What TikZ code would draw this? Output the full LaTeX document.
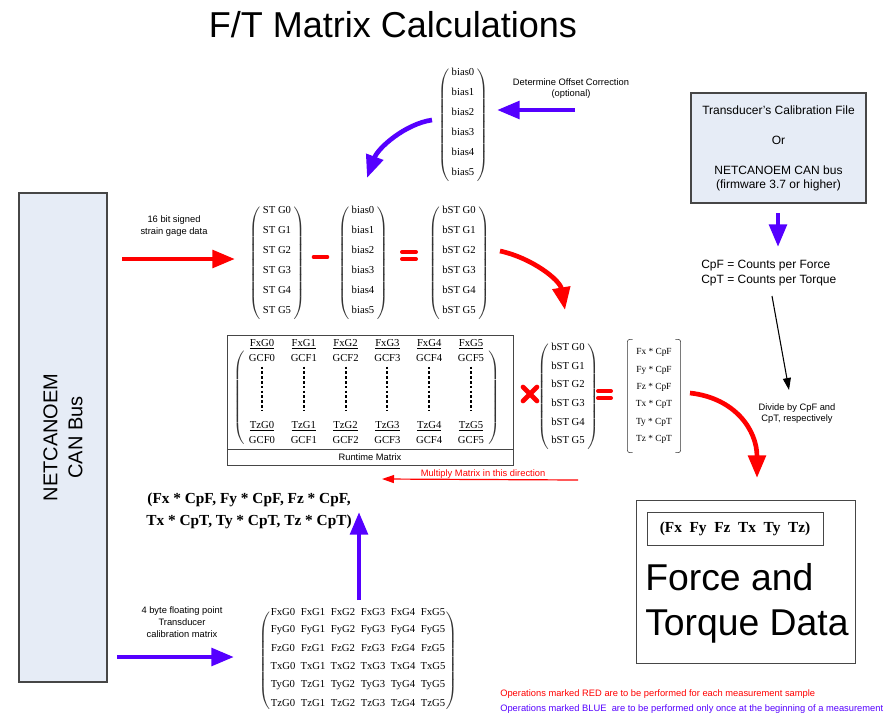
\documentclass[tikz,border=0pt]{standalone}
\usepackage{fontspec}
\setmainfont{Liberation Serif}
\setsansfont{Liberation Sans}
\usetikzlibrary{arrows.meta,matrix}

\definecolor{opred}{RGB}{255,0,0}
\definecolor{opblue}{RGB}{85,0,255}
\definecolor{boxfill}{RGB}{230,236,246}
\definecolor{boxline}{RGB}{70,70,70}

\tikzset{
  ent/.style={font=\fontsize{8}{9.6}\selectfont, inner sep=0pt},
  lab/.style={font=\sffamily\fontsize{7}{8.8}\selectfont, align=center},
  colmat/.style={matrix of nodes, inner sep=0pt, nodes={ent, minimum height=#1}, left delimiter=(, right delimiter=)},
  pull/.style={every left delimiter/.append style={xshift=#1}, every right delimiter/.append style={xshift=-#1}},
  redarrow/.style={opred, line width=3.5pt, -{Triangle[length=17pt,width=13pt]}},
  bluearrow/.style={opblue, line width=3.5pt, -{Triangle[length=17pt,width=13pt]}},
  sign/.style={opred, line width=3.5pt, line cap=round},
  srcbox/.style={draw=boxline, fill=boxfill, thick},
  every delimiter/.style={black!80, inner sep=0pt, inner xsep=0.5pt, outer sep=0pt, yscale=0.94, transform shape},
}

\begin{document}
\begin{tikzpicture}[x=0.75pt, y=-0.75pt]
\useasboundingbox (0,0) rectangle (892,724);

\node[font=\sffamily\fontsize{27}{32}\selectfont, anchor=base] (title) at (393,38) {F/T Matrix Calculations};

% sources
\node[srcbox, rotate=90, minimum width=366.75pt, minimum height=66pt, align=center, font=\sffamily\fontsize{15}{18.75}\selectfont] (bus) at (63,437.5) {NETCANOEM\\CAN Bus};
\node[srcbox, minimum width=131.25pt, minimum height=82.5pt, align=center, font=\sffamily\fontsize{9}{10.5}\selectfont] (calfile) at (778.5,148) {Transducer's Calibration File\\[12pt]Or\\[12pt]NETCANOEM CAN bus\\(firmware 3.7 or higher)};

% offset correction
\matrix[colmat=15pt] (biastop) at (463,122) {bias0\\bias1\\bias2\\bias3\\bias4\\bias5\\};
\node[lab] (offset) at (571,88.5) {Determine Offset Correction\\(optional)};

% strain gage data minus bias
\node[lab] (strain) at (174,226) {16 bit signed\\strain gage data};
\matrix[colmat=15pt] (stg) at (277,260) {ST G0\\ST G1\\ST G2\\ST G3\\ST G4\\ST G5\\};
\matrix[colmat=15pt] (bias) at (363,260) {bias0\\bias1\\bias2\\bias3\\bias4\\bias5\\};
\matrix[colmat=15pt] (bst) at (459,260) {bST G0\\bST G1\\bST G2\\bST G3\\bST G4\\bST G5\\};
\draw[sign] (314,257) -- (327,257);
\draw[sign, line width=3pt] (402,252) -- (416,252) (402,259) -- (416,259);

% runtime matrix
\node[draw=boxline, minimum width=214.5pt, minimum height=85.5pt] (rtbox) at (370,392) {};
\node[draw=boxline, lab, minimum width=214.5pt, minimum height=12pt] (rtlabel) at (370,457) {Runtime Matrix};
\begin{scope}[pull=4.5pt, every delimiter/.append style={yscale=0.95}]
\matrix[matrix of nodes, inner sep=0pt, nodes={ent, minimum height=10.5pt, minimum width=31.35pt}, left delimiter=(, right delimiter=)] (rt) at (366.5,392) {
\underline{FxG0} & \underline{FxG1} & \underline{FxG2} & \underline{FxG3} & \underline{FxG4} & \underline{FxG5}\\
GCF0 & GCF1 & GCF2 & GCF3 & GCF4 & GCF5\\[40.5pt]
\underline{TzG0} & \underline{TzG1} & \underline{TzG2} & \underline{TzG3} & \underline{TzG4} & \underline{TzG5}\\
GCF0 & GCF1 & GCF2 & GCF3 & GCF4 & GCF5\\
};
\end{scope}
\foreach \c in {1,...,6}
  \draw[line width=1.4pt, dash pattern=on 2pt off 1.6pt, shorten <=1pt, shorten >=6pt] (rt-2-\c.south) -- (rt-3-\c.north);

\draw[sign] (523,387) -- (537,401) (537,387) -- (523,401);
\matrix[colmat=14pt] (bstb) at (568,393.5) {bST G0\\bST G1\\bST G2\\bST G3\\bST G4\\bST G5\\};
\draw[sign, line width=3pt] (598,391) -- (611,391) (598,398) -- (611,398);

\matrix[matrix of nodes, nodes={font=\fontsize{7}{8.4}\selectfont, inner sep=0pt, minimum height=13pt, minimum width=33pt}] (res) at (654,396) {
Fx * CpF\\Fy * CpF\\Fz * CpF\\Tx * CpT\\Ty * CpT\\Tz * CpT\\};
\draw[black!80, rounded corners=2pt] ([xshift=4pt]res.north west) -- (res.north west) -- (res.south west) -- ([xshift=4pt]res.south west);
\draw[black!80, rounded corners=2pt] ([xshift=-4pt]res.north east) -- (res.north east) -- (res.south east) -- ([xshift=-4pt]res.south east);

\node[lab, text=opred] (multlab) at (483,474) {Multiply Matrix in this direction};
\node[font=\bfseries\fontsize{11.5}{16.5}\selectfont, align=center] (formula) at (249,511) {(Fx * CpF, Fy * CpF, Fz * CpF,\\Tx * CpT, Ty * CpT, Tz * CpT)};

% calibration matrix
\node[lab] (floatlab) at (182,622) {4 byte floating point\\Transducer\\calibration matrix};
\begin{scope}[pull=3.5pt]
\matrix[matrix of nodes, inner sep=0pt, nodes={ent, minimum height=13.35pt, minimum width=22.5pt}, left delimiter=(, right delimiter=)] (cal) at (358,657.5) {
FxG0 & FxG1 & FxG2 & FxG3 & FxG4 & FxG5\\
FyG0 & FyG1 & FyG2 & FyG3 & FyG4 & FyG5\\
FzG0 & FzG1 & FzG2 & FzG3 & FzG4 & FzG5\\
TxG0 & TxG1 & TxG2 & TxG3 & TxG4 & TxG5\\
TyG0 & TzG1 & TyG2 & TyG3 & TyG4 & TyG5\\
TzG0 & TzG1 & TzG2 & TzG3 & TzG4 & TzG5\\
};
\end{scope}

% counts per unit
\node[font=\sffamily\fontsize{9}{11.25}\selectfont, align=left, anchor=west, inner sep=0pt] (cpf) at (701,273.5) {CpF = Counts per Force\\CpT = Counts per Torque};
\node[lab] (divide) at (797,413.5) {Divide by CpF and\\CpT, respectively};

% result
\node[draw=boxline, minimum width=164.25pt, minimum height=122.25pt] (ftbox) at (745.5,582) {};
\node[draw=boxline, minimum width=132pt, minimum height=24.75pt, font=\bfseries\fontsize{11.5}{14}\selectfont] (ftvec) at (735,528.5) {(Fx\ \ Fy\ \ Fz\ \ Tx\ \ Ty\ \ Tz)};
\node[anchor=north west, inner sep=0pt, align=left, font=\sffamily\fontsize{28}{33.75}\selectfont] (ftdata) at (645,563) {Force and\\Torque Data};

\node[anchor=west, inner sep=0pt, font=\sffamily\fontsize{7}{8.4}\selectfont, text=opred] (rednote) at (500,694) {Operations marked RED are to be performed for each measurement sample};
\node[anchor=west, inner sep=0pt, font=\sffamily\fontsize{7}{8.4}\selectfont, text=opblue] (bluenote) at (500,709) {Operations marked BLUE\ \ are to be performed only once at the beginning of a measurement};

% arrow ends
\coordinate (offA) at (575,110);
\coordinate (offB) at (497,110);
\coordinate (curA) at (432,120);
\coordinate (curB) at (367,178);
\coordinate (inA) at (122,259);
\coordinate (inB) at (235,259);
\coordinate (bstA) at (500,251);
\coordinate (bstB) at (565,310);
\coordinate (resA) at (690,393);
\coordinate (resB) at (757,478);
\coordinate (mulA) at (578,480);
\coordinate (mulB) at (382,479);
\coordinate (flA) at (117,657);
\coordinate (flB) at (234,657);
\coordinate (upA) at (359,600);
\coordinate (upB) at (359,512);
\coordinate (cfA) at (778,213);
\coordinate (cfB) at (778,247);
\coordinate (dvA) at (772,296);
\coordinate (dvB) at (789,390);

\draw[bluearrow] (offA) -- (offB);
\draw[bluearrow] (curA) .. controls (405,124) and (378,148) .. (curB);
\draw[redarrow] (inA) -- (inB);
\draw[redarrow] (bstA) .. controls (532,258) and (560,280) .. (bstB);
\draw[redarrow] (resA) .. controls (735,398) and (757,430) .. (resB);
\draw[opred, line width=0.9pt, -{Triangle[length=9pt,width=6pt]}] (mulA) -- (mulB);
\draw[bluearrow] (flA) -- (flB);
\draw[bluearrow] (upA) -- (upB);
\draw[bluearrow] (cfA) -- (cfB);
\draw[line width=0.8pt, -{Triangle[length=9pt,width=6pt]}] (dvA) -- (dvB);
\end{tikzpicture}
\end{document}
